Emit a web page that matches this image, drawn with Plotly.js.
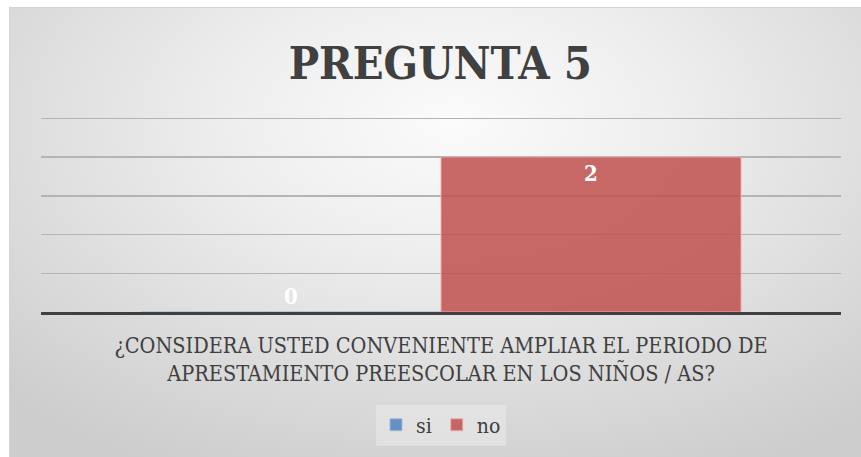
<!DOCTYPE html>
<html>
<head>
<meta charset="utf-8">
<script src="https://cdn.plot.ly/plotly-3.0.1.min.js"></script>
<style>
  html, body { margin: 0; padding: 0; background: #ffffff; width: 861px; height: 457px; overflow: hidden; }
  #frame {
    position: absolute; left: 9px; top: 7px; width: 852px; height: 450px;
    border-left: 1px solid #d4d4d4; border-top: 1px solid #d4d4d4;
    background: radial-gradient(ellipse 75% 85% at 52% 25%, #fbfbfb 0%, #eeeeee 35%, #dcdcdc 70%, #cdcdcd 100%);
  }
  #chart { width: 852px; height: 450px; }
</style>
</head>
<body>
<div id="frame"><div id="chart"></div></div>
<script>
const categories = ["¿CONSIDERA USTED CONVENIENTE AMPLIAR EL PERIODO DE<br>APRESTAMIENTO PREESCOLAR EN LOS NIÑOS / AS?"];
const seriesNames = ["si", "no"];
const siValues = [0];
const noValues = [2];
const titleText = "PREGUNTA 5";

const FONT = "'DejaVu Serif Condensed', 'Liberation Serif', serif";

const data = [
  {
    type: "bar", name: seriesNames[0], x: categories, y: siValues,
    text: siValues.map(String), textposition: "outside", cliponaxis: false,
    outsidetextfont: { family: FONT, size: 22, color: "#ffffff", weight: "bold" },
    marker: { color: "rgba(79,129,189,0.85)", line: { color: "rgba(160,190,225,0.9)", width: 1 } }
  },
  {
    type: "bar", name: seriesNames[1], x: categories, y: noValues,
    text: noValues.map(String), textposition: "inside", insidetextanchor: "end",
    insidetextfont: { family: FONT, size: 22, color: "#ffffff", weight: "bold" },
    marker: { color: "rgba(192,80,77,0.85)", line: { color: "rgba(235,175,175,0.9)", width: 1 } }
  }
];

const layout = {
  width: 852, height: 450,
  paper_bgcolor: "rgba(0,0,0,0)", plot_bgcolor: "rgba(0,0,0,0)",
  margin: { l: 31, r: 21, t: 107.7, b: 146 },
  barmode: "group", bargap: 0.25, bargroupgap: 0,
  font: { family: FONT, color: "#404040", size: 20 },
  title: {
    text: titleText, x: 0.505, xanchor: "center", y: 0.878, yanchor: "middle", yref: "container",
    font: { family: FONT, size: 45, color: "#404040", weight: "bold" }
  },
  xaxis: {
    showline: true, linecolor: "#404040", linewidth: 3, ticks: "", showgrid: false,
    tickfont: { family: FONT, size: 21.5, color: "#404040" }, ticklabelstandoff: 12
  },
  yaxis: {
    range: [0, 2.53], dtick: 0.5, tick0: 0, showticklabels: false, ticks: "", zeroline: false,
    showgrid: true, gridcolor: "#b4b4b4", gridwidth: 1.5, showline: false
  },
  showlegend: true,
  legend: {
    orientation: "h", x: 0.5, xanchor: "center", y: -0.577, yanchor: "middle",
    bgcolor: "rgba(240,240,240,0.45)", font: { family: FONT, size: 21, color: "#404040" },
    itemwidth: 30, traceorder: "normal"
  }
};

Plotly.newPlot("chart", data, layout, { displayModeBar: false, staticPlot: true });
</script>
</body>
</html>
